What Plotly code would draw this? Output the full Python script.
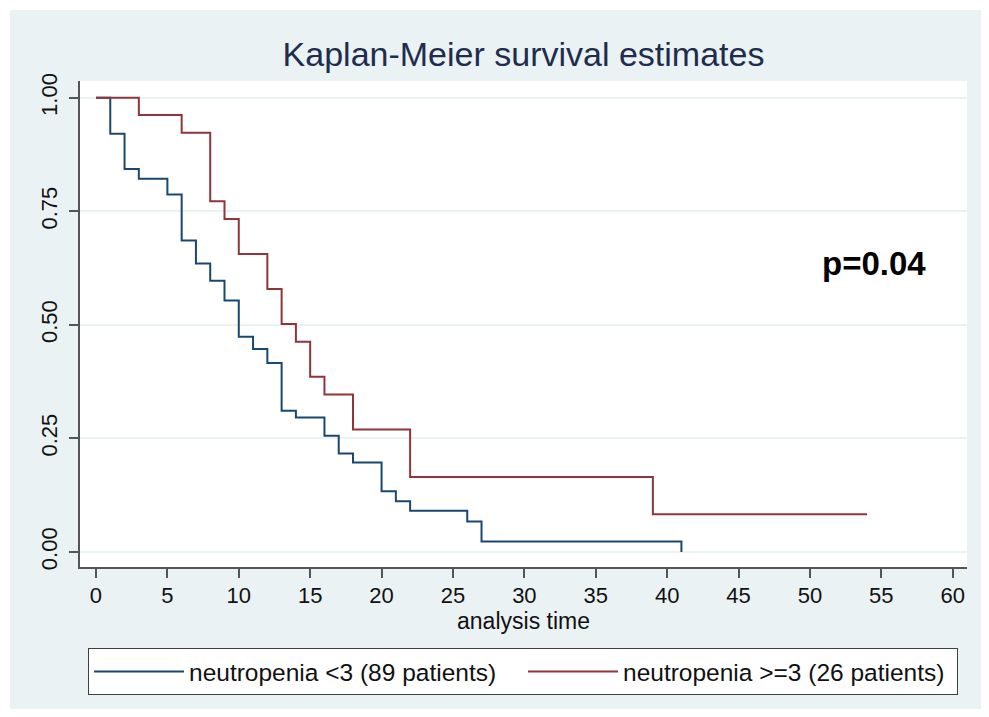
import plotly.graph_objects as go

# ---- data ----
blue_name = "neutropenia <3 (89 patients)"
blue_t = [0, 1, 2, 3, 5, 6, 7, 8, 9, 10, 11, 12, 13, 14, 16, 17, 18, 20, 21, 22, 26, 27, 41]
blue_s = [1.0, 0.921, 0.843, 0.822, 0.787, 0.686, 0.635, 0.597, 0.554, 0.474, 0.447, 0.416,
          0.311, 0.296, 0.256, 0.217, 0.197, 0.134, 0.112, 0.091, 0.067, 0.023, 0.0]

red_name = "neutropenia >=3 (26 patients)"
red_t = [0, 3, 6, 8, 9, 10, 12, 13, 14, 15, 16, 18, 22, 39, 54]
red_s = [1.0, 0.962, 0.923, 0.772, 0.733, 0.656, 0.579, 0.502, 0.463, 0.386, 0.347,
         0.270, 0.165, 0.083, 0.083]

x_ticks = list(range(0, 61, 5))
y_ticks = [0, 0.25, 0.5, 0.75, 1.0]
y_ticklabels = ["0.00", "0.25", "0.50", "0.75", "1.00"]

title_text = "Kaplan-Meier survival estimates"
x_title = "analysis time"
p_text = "p=0.04"

# ---- figure ----
OFF = 8                       # default page body margin
W, H = 989 - 2 * OFF, 717 - 2 * OFF
ML, MT = 80 - OFF, 81 - OFF
MR = W - (967 - OFF)
MB = H - (567 - OFF)
pw, ph = W - ML - MR, H - MT - MB

BG = "#EAF2F3"
FONT = "Liberation Sans, Arial, sans-serif"

fig = go.Figure()
fig.add_trace(go.Scatter(x=blue_t, y=blue_s, mode="lines", line_shape="hv",
                         line=dict(color="#1A476F", width=2), name=blue_name))
fig.add_trace(go.Scatter(x=red_t, y=red_s, mode="lines", line_shape="hv",
                         line=dict(color="#90353B", width=2), name=red_name))

def px_x(p):  # page pixel -> paper fraction
    return (p - OFF - ML) / pw

def px_y(p):
    return (H - MB - (p - OFF)) / ph

shapes = [
    dict(type="rect", xref="paper", yref="paper", layer="below",
         x0=px_x(10), x1=px_x(1000), y0=px_y(730), y1=px_y(10),
         fillcolor=BG, line=dict(width=0)),
    dict(type="rect", xref="paper", yref="paper", layer="below",
         x0=0, x1=1, y0=0, y1=1, fillcolor="white", line=dict(width=0)),
]

fig.update_layout(
    width=W, height=H, autosize=False,
    margin=dict(l=ML, r=MR, t=MT, b=MB, pad=0),
    paper_bgcolor="white", plot_bgcolor="white",
    font=dict(family=FONT, color="#000000"),
    shapes=shapes,
    title=dict(text=title_text, x=0.5, xref="paper", xanchor="center",
               y=1 - (54 - OFF) / H, yref="container", yanchor="middle",
               font=dict(size=34, color="#1E2D4E", family=FONT)),
    xaxis=dict(range=[-1.12, 61.0], tickvals=x_ticks, ticks="outside", ticklen=9,
               tickwidth=1.5, tickcolor="#555555", showline=True, linecolor="#555555",
               linewidth=1.5, showgrid=False, zeroline=False,
               tickfont=dict(size=22, color="#111111"),
               ticklabelstandoff=-1,
               title=dict(text=x_title, font=dict(size=23, color="#111111"), standoff=0)),
    yaxis=dict(range=[-0.033, 1.037], tickvals=y_ticks, ticktext=y_ticklabels,
               ticks="outside", ticklen=9, tickwidth=1.5, tickcolor="#555555",
               showline=True, linecolor="#555555", linewidth=1.5,
               showgrid=True, gridcolor=BG, gridwidth=2, zeroline=False,
               tickangle=-90, tickfont=dict(size=22, color="#111111"),
               ticklabelstandoff=3),
    legend=dict(orientation="h", x=px_x(88), xanchor="left", y=px_y(648), yanchor="top",
                bgcolor="white", bordercolor="#404040", borderwidth=1,
                font=dict(size=24.5, color="#111111", family=FONT),
                itemwidth=90, entrywidth=329, entrywidthmode="pixels",
                tracegroupgap=0),
    showlegend=True,
)

fig.add_annotation(x=54.5, y=0.636, xref="x", yref="y", text="<b>" + p_text + "</b>",
                   showarrow=False, font=dict(size=33, color="#000000", family=FONT),
                   xanchor="center", yanchor="middle")

fig.write_html("out.html")
